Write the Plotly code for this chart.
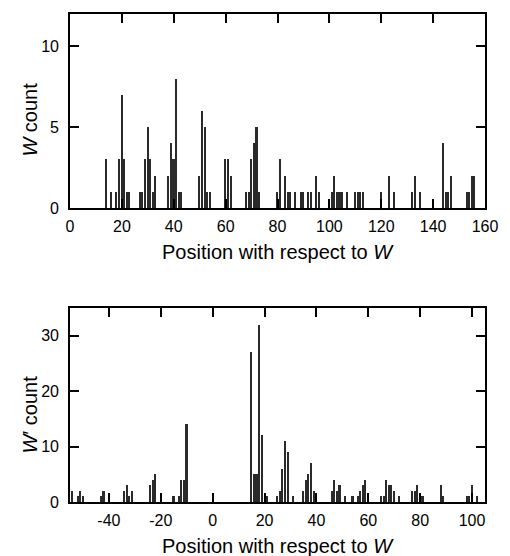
#!/usr/bin/env python3
"""Position histograms of W and W' counts (two stacked bar panels)."""

import plotly.graph_objects as go

# top panel: W count by position
top_pos = [14, 16, 18, 19, 20, 21, 22, 23,
           27, 28, 29, 30, 31, 32, 33,
           38, 39, 40, 41, 42, 43,
           50, 51, 52, 53, 54,
           60, 61, 62,
           68, 69, 70, 71, 72, 73,
           80, 81, 83, 84, 85, 87, 89, 90, 92, 93, 95, 96,
           101, 102, 103, 104, 105, 107,
           110, 111, 112, 113,
           120, 123, 125,
           132, 133, 135,
           144, 145, 146, 147,
           153, 154, 155, 156]
top_cnt = [3, 1, 1, 3, 7, 3, 1, 1,
           1, 1, 3, 5, 3, 1, 2,
           2, 4, 3, 8, 1, 1,
           2, 6, 5, 1, 1,
           3, 3, 2,
           1, 1, 3, 4, 5, 1,
           1, 3, 2, 1, 1, 1, 1, 1, 1, 1, 2, 1,
           1, 2, 1, 1, 1, 1,
           1, 1, 1, 1,
           1, 2, 1,
           1, 2, 1,
           4, 1, 1, 2,
           1, 1, 2, 2]

# bottom panel: W' count by position
bot_pos = [-54, -52, -51, -50, -43, -42,
           -34, -33, -32, -31, -24, -23, -22,
           -15, -13, -12, -11, -10,
           15, 16, 17, 18, 19, 21,
           25, 26, 27, 28, 29, 31,
           35, 36, 37, 38, 39,
           46, 47, 48, 49, 51,
           54, 56, 57, 58, 59,
           65, 66, 67, 68, 69, 70, 72,
           77, 78, 79, 81,
           88, 89,
           98, 99, 100, 102]
bot_cnt = [2, 1, 2, 1, 1, 2,
           2, 3, 1, 2, 3, 4, 5,
           1, 1, 4, 4, 14,
           27, 5, 5, 32, 12, 1,
           1, 2, 6, 11, 9, 1,
           2, 4, 5, 7, 2,
           2, 4, 2, 3, 1,
           1, 1, 2, 3, 4,
           1, 1, 4, 3, 3, 2, 1,
           2, 2, 3, 1,
           3, 1,
           1, 1, 3, 1]

top_xticks = [0, 20, 40, 60, 80, 100, 120, 140, 160]
top_yticks = [0, 5, 10]
bot_xticks = [-40, -20, 0, 20, 40, 60, 80, 100]
bot_yticks = [0, 10, 20, 30]

FONT = "Liberation Sans, Arial, Helvetica, sans-serif"
BAR_COLOR = "#2a2a2a"

fig = go.Figure()
fig.add_trace(go.Bar(x=top_pos, y=top_cnt, width=0.6, marker_color=BAR_COLOR,
                     marker_line_width=0, xaxis="x", yaxis="y", showlegend=False))
fig.add_trace(go.Bar(x=bot_pos, y=bot_cnt, width=0.6, marker_color=BAR_COLOR,
                     marker_line_width=0, xaxis="x2", yaxis="y2", showlegend=False))

axis_common = dict(
    showline=True, linecolor="black", linewidth=1.6, mirror="ticks",
    ticks="inside", ticklen=9, tickwidth=1.6, tickcolor="black",
    showgrid=False, zeroline=False, ticklabeloverflow="allow",
    tickfont=dict(family=FONT, size=16, color="black"),
)

fig.update_layout(
    width=510, height=556,
    margin=dict(l=70, r=19, t=14, b=54),
    paper_bgcolor="white", plot_bgcolor="white",
    bargap=0,
    font=dict(family=FONT, size=16, color="black"),
    xaxis=dict(domain=[0, 1], range=[0, 160], tickvals=top_xticks,
               ticktext=[str(v) for v in top_xticks], ticklabelstandoff=3,
               anchor="y", **axis_common),
    yaxis=dict(domain=[0.6025, 1], range=[0, 12], tickvals=top_yticks,
               ticktext=[str(v) for v in top_yticks], ticklabelstandoff=6,
               anchor="x", **axis_common),
    xaxis2=dict(domain=[0, 1], range=[-55, 105], tickvals=bot_xticks,
                ticktext=[str(v) for v in bot_xticks], ticklabelstandoff=3,
                anchor="y2", **axis_common),
    yaxis2=dict(domain=[0, 0.3975], range=[0, 35], tickvals=bot_yticks,
                ticktext=[str(v) for v in bot_yticks], ticklabelstandoff=6,
                anchor="x2", **axis_common),
)

title_font = dict(family=FONT, size=20, color="black")
fig.add_annotation(text="Position with respect to <i>W</i>", xref="paper", yref="paper",
                   x=0.5, y=0.6025, yshift=-44, showarrow=False, font=title_font,
                   xanchor="center", yanchor="middle")
fig.add_annotation(text="Position with respect to <i>W</i>", xref="paper", yref="paper",
                   x=0.5, y=0, yshift=-44, showarrow=False, font=title_font,
                   xanchor="center", yanchor="middle")
fig.add_annotation(text="<i>W</i> count", xref="paper", yref="paper",
                   x=0, xshift=-40, y=0.8, yshift=-8, textangle=-90, showarrow=False,
                   font=title_font, xanchor="center", yanchor="middle")
fig.add_annotation(text="<i>W</i>\u2032 count", xref="paper", yref="paper",
                   x=0, xshift=-40, y=0.2, yshift=-10, textangle=-90, showarrow=False,
                   font=title_font, xanchor="center", yanchor="middle")

# drop the default 8px body margin so the 510x556 figure fills the window
fig.write_html("out.html", config={"displayModeBar": False},
               post_script="document.body.style.margin='0';")
